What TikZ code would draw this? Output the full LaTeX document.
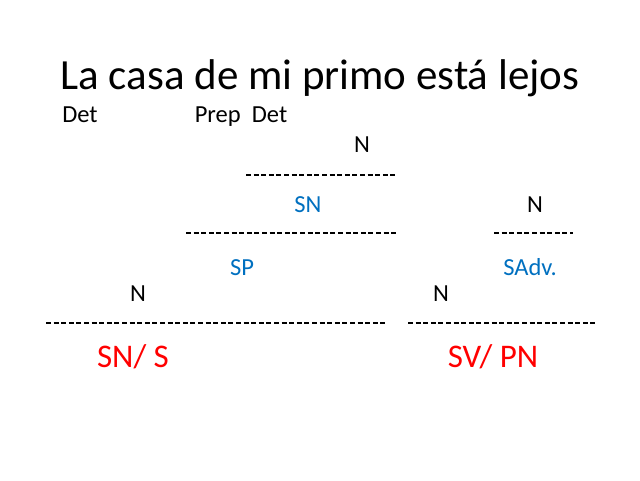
\documentclass[tikz,border=0pt]{standalone}
\usepackage{fontspec}
\setmainfont{Carlito}
\usetikzlibrary{positioning}
\definecolor{phraseblue}{RGB}{0,112,192}
\tikzset{
  word/.style   = {inner sep=0pt, anchor=base, font=\fontsize{24.5}{29}\selectfont},
  phrase/.style = {word, text=phraseblue},
  func/.style   = {inner sep=0pt, anchor=base, text=red, font=\fontsize{33}{38}\selectfont},
  rule/.style   = {line width=1.3pt, dash pattern=on 5pt off 2.6pt}
}
\begin{document}
\begin{tikzpicture}[x=1pt,y=-1pt]
  \useasboundingbox[fill=white] (0,0) rectangle (640,480);
  \node[inner sep=0pt, anchor=base, font=\fontsize{43}{50}\selectfont] (title) at (320,89) {La casa de mi primo está lejos};
  \node[word] (det1) at (80,122) {Det};
  \node[word] (prepdet) at (241,122) {Prep\ \ Det};
  \node[word] (n1) at (362,152) {N};
  \draw[rule] (246,175) -- (397,175);
  \node[phrase] (sn) at (308,212) {SN};
  \node[word] (n2) at (535,212) {N};
  \draw[rule] (186,233) -- (397,233);
  \draw[rule] (494,233) -- (573,233);
  \node[phrase] (sp) at (242,275) {SP};
  \node[phrase] (sadv) at (530,275) {SAdv.};
  \node[word] (n3) at (138,301) {N};
  \node[word] (n4) at (441,301) {N};
  \draw[rule] (46,323) -- (387,323);
  \draw[rule] (408,323) -- (596,323);
  \node[func] (sujeto) at (133,367) {SN/ S};
  \node[func] (predicado) at (493,367) {SV/ PN};
\end{tikzpicture}
\end{document}
